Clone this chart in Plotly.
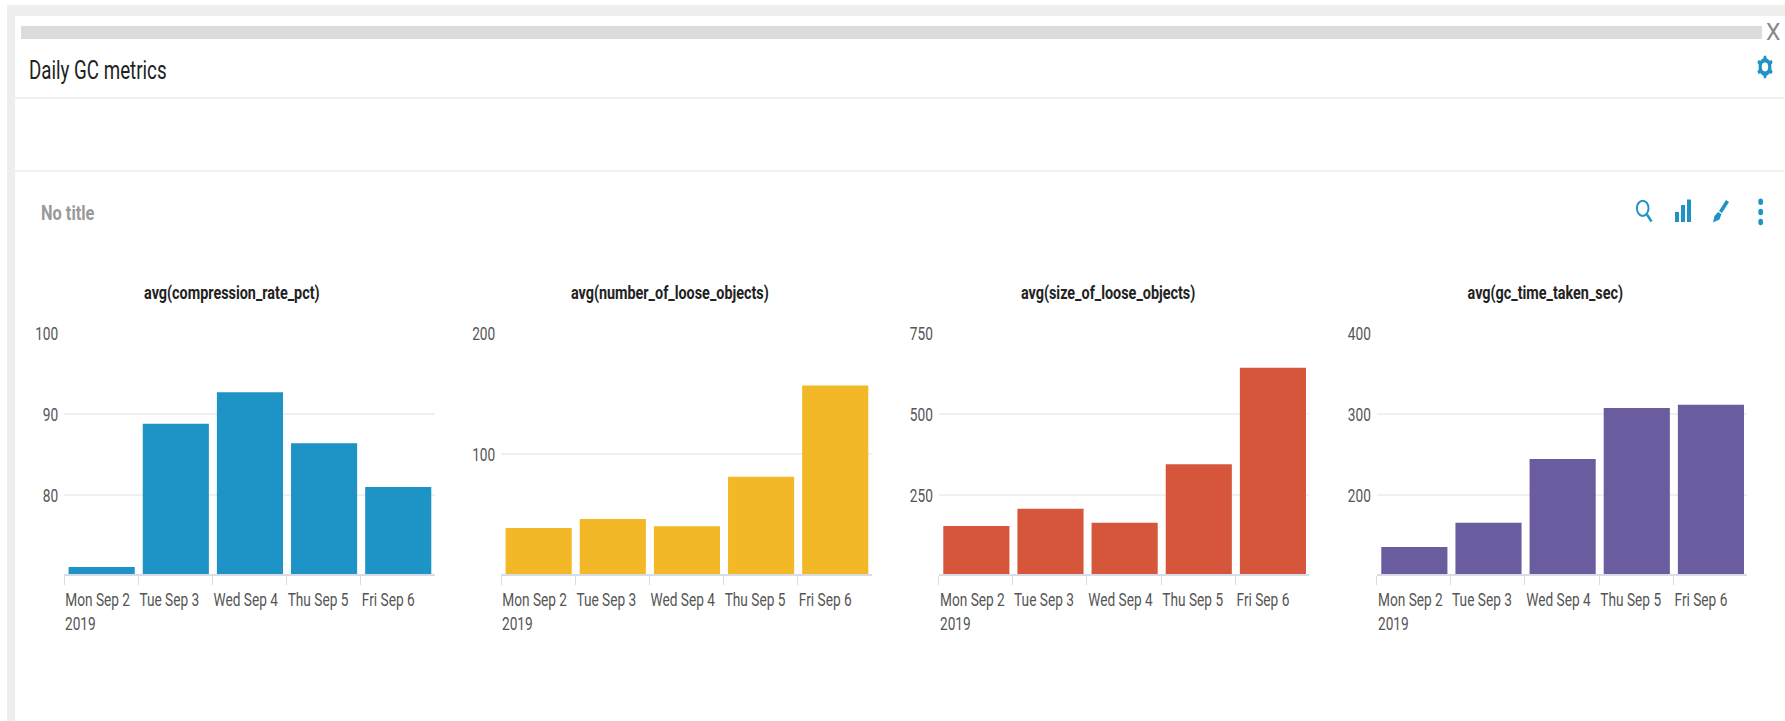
import math
import plotly.graph_objects as go

W, H = 1785, 721
DAY_MS = 86400000

dates = ["2019-09-02", "2019-09-03", "2019-09-04", "2019-09-05", "2019-09-06"]
tick_labels = ["Mon Sep 2", "Tue Sep 3", "Wed Sep 4", "Thu Sep 5", "Fri Sep 6"]
year_label = "2019"

titles = ["avg(compression_rate_pct)", "avg(number_of_loose_objects)",
          "avg(size_of_loose_objects)", "avg(gc_time_taken_sec)"]

compression_rate = [71.1, 88.8, 92.7, 86.4, 81.0]
loose_objects = [39.4, 46.8, 41.0, 81.6, 156.8]
loose_size = [154, 207.5, 164, 344.5, 643]
gc_time = [135.8, 165.8, 244.5, 307.5, 311.5]
series = [compression_rate, loose_objects, loose_size, gc_time]

colors = ["#1e93c6", "#f2b827", "#d6563c", "#6a5c9e"]
y_ranges = [[70.25, 100], [1.6, 200], [6, 750], [102.5, 400]]
y_ticks = [[80, 90, 100], [100, 200], [250, 500, 750], [200, 300, 400]]
x_left = [64, 501, 938.7, 1376.7]
title_x = [232, 670, 1107.5, 1545.3]
PLOT_W = 370.7
Y_TOP, Y_BOT = 333, 574

FONT = "Roboto, sans-serif"
BLUE = "#1e93c6"


def px(x):
    return x / W


def py(y):
    return 1 - y / H


fig = go.Figure()
shapes = []


def rect(x0, y0, x1, y1, color, layer="below"):
    shapes.append(dict(type="rect", xref="paper", yref="paper", x0=px(x0), x1=px(x1),
                       y0=py(y0), y1=py(y1), fillcolor=color, line_width=0, layer=layer))


def poly(points, color):
    path = "M " + " L ".join(f"{px(a):.6f},{py(b):.6f}" for a, b in points) + " Z"
    shapes.append(dict(type="path", xref="paper", yref="paper", path=path,
                       fillcolor=color, line_width=0))


def stroke(points, color, width):
    path = "M " + " L ".join(f"{px(a):.6f},{py(b):.6f}" for a, b in points)
    shapes.append(dict(type="path", xref="paper", yref="paper", path=path,
                       line=dict(color=color, width=width)))


def ellipse(cx, cy, rx, ry, fill, line=None, width=0):
    shapes.append(dict(type="circle", xref="paper", yref="paper",
                       x0=px(cx - rx), x1=px(cx + rx), y0=py(cy + ry), y1=py(cy - ry),
                       fillcolor=fill, line=dict(color=line or fill, width=width)))


# dashboard frame
rect(7, 5, W, 16, "#eeeeee")
rect(7, 5, 15, H, "#eeeeee")
rect(21, 26, 1762, 39, "#dcdcdc")
rect(15, 97, W - 1, 99, "#f0f0f0")
rect(15, 170, W - 1, 172, "#f0f0f0")

# gear icon
gear = []
for i in range(48):
    a = 2 * math.pi * i / 48
    r = 1.0 if (i % 8) in (0, 1, 7) else 0.78
    gear.append((1765 + 8.2 * r * math.sin(a), 67 - 11.3 * r * math.cos(a)))
poly(gear, BLUE)
ellipse(1765, 67, 3.2, 4.4, "#ffffff")

# search icon
ellipse(1642.7, 208.3, 5.8, 7.6, "rgba(0,0,0,0)", BLUE, 2)
stroke([(1647, 214.5), (1651.5, 221.5)], BLUE, 2.4)
# bars icon
rect(1675, 212, 1679, 222, BLUE, "above")
rect(1681, 205, 1685, 222, BLUE, "above")
rect(1687, 199.5, 1691, 222, BLUE, "above")
# brush icon
poly([(1726, 200), (1729, 202), (1722, 213), (1719, 211)], BLUE)
poly([(1718, 212), (1721.5, 214), (1719.5, 219.5), (1713, 222.5), (1714.5, 216)], BLUE)
# kebab icon
for cy in (201.7, 212, 222):
    ellipse(1760.7, cy, 2.4, 3.3, BLUE)

annotations = []


def text(x, y, s, size, color, anchor="left", bold=False):
    annotations.append(dict(xref="paper", yref="paper", x=px(x), y=py(y),
                            text=f"<b>{s}</b>" if bold else s,
                            showarrow=False, xanchor=anchor, align=anchor, yanchor="middle",
                            font=dict(family=FONT, size=size, color=color),
                            borderpad=0, borderwidth=0))


text(29, 71, "Daily GC metrics", 25, "#222222")
text(40.5, 213, "No title", 21, "#999999", bold=True)
text(1772.5, 32.5, "X", 23, "#888888", anchor="center")

for i in range(4):
    n = "" if i == 0 else str(i + 1)
    fig.add_trace(go.Bar(
        x=dates, y=series[i], xperiod=DAY_MS, xperiodalignment="middle",
        width=0.892 * DAY_MS, offset=-0.438 * DAY_MS,
        marker=dict(color=colors[i], line_width=0), showlegend=False,
        xaxis=f"x{n}", yaxis=f"y{n}",
    ))
    fig.update_layout(**{
        f"xaxis{n}": dict(type="date", domain=[px(x_left[i]), px(x_left[i] + PLOT_W)],
                          range=["2019-09-02", "2019-09-07"], anchor=f"y{n}",
                          tickmode="array", tickvals=dates, ticktext=tick_labels, tickangle=0,
                          ticks="outside", ticklen=9, tickwidth=1, tickcolor="#d7dce6",
                          ticklabelposition="outside right", ticklabeloverflow="allow",
                          ticklabelstandoff=7,
                          showline=True, linecolor="#d7dce6", linewidth=1.5,
                          showgrid=False, zeroline=False,
                          tickfont=dict(family=FONT, size=19, color="#555555")),
        f"yaxis{n}": dict(domain=[py(Y_BOT), py(Y_TOP)], range=y_ranges[i], anchor=f"x{n}",
                          tickmode="array", tickvals=y_ticks[i],
                          ticks="outside", ticklen=1, tickcolor="rgba(0,0,0,0)",
                          showline=False, showgrid=True, gridcolor="#f0f0f0", gridwidth=1.5,
                          zeroline=False,
                          tickfont=dict(family=FONT, size=19, color="#555555")),
    })
    text(title_x[i], 292.5, titles[i], 18, "#222222", anchor="center", bold=True)
    text(x_left[i] + 1, 623, year_label, 19, "#555555")

fig.update_layout(width=W, height=H, margin=dict(l=0, r=0, t=0, b=0, autoexpand=False),
                  paper_bgcolor="#ffffff", plot_bgcolor="rgba(0,0,0,0)",
                  shapes=shapes, annotations=annotations)

# The reference uses a condensed face; squeeze the real text horizontally around its anchor.
squeeze = """
document.body.style.margin='0';
document.documentElement.style.overflow='hidden';
document.querySelectorAll('svg text').forEach(function(t){
  var s=t.textContent, k=0.72;
  if(s==='X') return;
  if(s.indexOf('avg(')===0) k=0.80;
  if(s==='Daily GC metrics') k=0.75;
  if(s==='No title') k=0.78;
  var x=parseFloat(t.getAttribute('x'))||0, old=t.getAttribute('transform')||'';
  t.setAttribute('transform', old+' translate('+x+',0) scale('+k+',1) translate('+(-x)+',0)');
});
"""
fig.write_html("out.html", config=dict(displayModeBar=False), post_script=squeeze)
